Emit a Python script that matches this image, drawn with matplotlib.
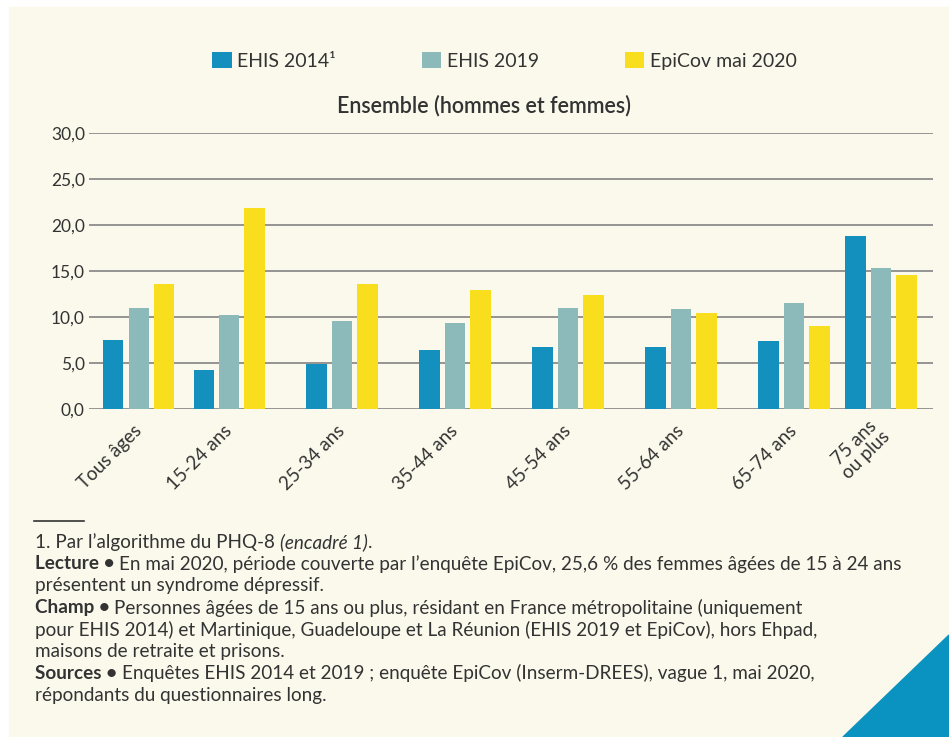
import matplotlib
matplotlib.use("Agg")
import matplotlib.pyplot as plt
from matplotlib.patches import Polygon

plt.rcParams['font.family'] = ['Lato', 'DejaVu Sans']

# part de personnes présentant un syndrome dépressif (%)
categories = ["Tous âges", "15-24 ans", "25-34 ans", "35-44 ans",
              "45-54 ans", "55-64 ans", "65-74 ans", "75 ans\nou plus"]
ehis_2014 = [7.5, 4.2, 4.9, 6.4, 6.7, 6.7, 7.4, 18.8]
ehis_2019 = [10.9, 10.2, 9.5, 9.3, 11.0, 10.8, 11.5, 15.3]
epicov_2020 = [13.6, 21.8, 13.6, 12.9, 12.4, 10.4, 9.0, 14.5]
series_names = ["EHIS 2014\u00b9", "EHIS 2019", "EpiCov mai 2020"]

colors = ["#1390be", "#8cb9b9", "#f8de1c"]
bg = "#fbf9ec"
txt = "#333333"

# spacing of the age groups along the axis
group_pos = [0, 0.8, 1.8, 2.8, 3.8, 4.8, 5.8, 6.57]
bar_w = 0.18
step = 0.225

fig = plt.figure(figsize=(9.49, 7.37), dpi=100)
fig.patch.set_facecolor("white")
# cream panel
fig.patches.append(plt.Rectangle((9 / 949, 0), 1, 1 - 7 / 737,
                                 transform=fig.transFigure, color=bg, zorder=-10))

ax = fig.add_axes([89 / 949, 1 - 408.7 / 737, (933 - 89) / 949, (408.7 - 132.7) / 737])
ax.set_facecolor("none")

bars = []
for k, vals in enumerate([ehis_2014, ehis_2019, epicov_2020]):
    xs = [p + (k - 1) * step for p in group_pos]
    b = ax.bar(xs, vals, width=bar_w, color=colors[k], zorder=3, label=series_names[k])
    bars.append(b)

ax.set_ylim(0, 30)
ax.set_xlim(-0.44, 7.03)
ax.set_yticks(range(0, 31, 5))
ax.set_yticklabels([f"{v},0" for v in range(0, 31, 5)], fontsize=12.5, color=txt)
ax.yaxis.grid(True, color="#8c8c8c", linewidth=1.3, zorder=0)
ax.tick_params(axis="both", length=0)
ax.tick_params(axis="y", pad=3)
for s in ax.spines.values():
    s.set_visible(False)

ax.set_xticks(group_pos)
ax.set_xticklabels(categories, rotation=45, ha="right", va="center",
                   rotation_mode="anchor", fontsize=13.5, color=txt,
                   multialignment="center", linespacing=1.0)
ax.tick_params(axis="x", pad=14)

leg = fig.legend(handles=bars, labels=series_names, loc="center",
                 bbox_to_anchor=(504.5 / 949, 1 - 61 / 737), ncol=3, frameon=False,
                 fontsize=14, handlelength=1.0, handleheight=0.9,
                 handletextpad=0.3, columnspacing=4.4, labelcolor=txt)

fig.text(484 / 949, 1 - 106 / 737, "Ensemble (hommes et femmes)", ha="center",
         va="center", fontsize=15.5, fontweight="semibold", color=txt)

# notes below the chart
fig.add_artist(plt.Line2D([34 / 949, 84 / 949], [1 - 521 / 737] * 2,
                          color="#333333", linewidth=1.2, transform=fig.transFigure))

renderer = fig.canvas.get_renderer()


def note_line(y, parts, x=35):
    xf = x / 949
    for text, style in parts:
        kw = dict(fontsize=13.6, color=txt, va="center", ha="left")
        if style == "b":
            kw["fontweight"] = "bold"
        elif style == "i":
            kw["fontstyle"] = "italic"
        t = fig.text(xf, 1 - y / 737, text, **kw)
        bb = t.get_window_extent(renderer)
        xf = bb.x1 / fig.bbox.width


notes = [
    [("1. Par l\u2019algorithme du PHQ-8 ", ""), ("(encadré 1)", "i"), (".", "")],
    [("Lecture \u2022 ", "b"), ("En mai 2020, période couverte par l\u2019enquête EpiCov, 25,6 % des femmes âgées de 15 à 24 ans", "")],
    [("présentent un syndrome dépressif.", "")],
    [("Champ \u2022 ", "b"), ("Personnes âgées de 15 ans ou plus, résidant en France métropolitaine (uniquement", "")],
    [("pour EHIS 2014) et Martinique, Guadeloupe et La Réunion (EHIS 2019 et EpiCov), hors Ehpad,", "")],
    [("maisons de retraite et prisons.", "")],
    [("Sources \u2022 ", "b"), ("Enquêtes EHIS 2014 et 2019 ; enquête EpiCov (Inserm-DREES), vague 1, mai 2020,", "")],
    [("répondants du questionnaires long.", "")],
]
for i, parts in enumerate(notes):
    note_line(542 + i * 21.9, parts)

# corner triangle
fig.patches.append(Polygon([(949 / 949, 1 - 635 / 737), (843 / 949, 0), (1, 0)],
                           closed=True, transform=fig.transFigure,
                           color="#0a93c0", zorder=5))

fig.savefig("out.png", dpi=100, facecolor=fig.get_facecolor())
